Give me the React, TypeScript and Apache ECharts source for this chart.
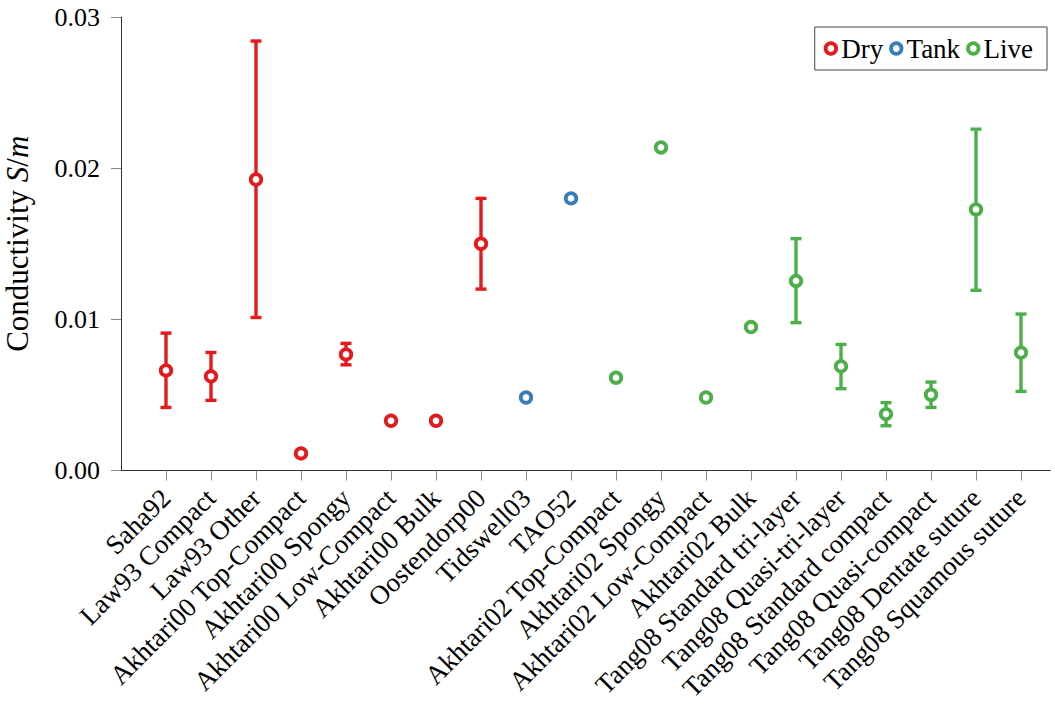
import React, { useEffect, useRef } from "react";
import * as echarts from "echarts";

const categories = [
  "Saha92",
  "Law93 Compact",
  "Law93 Other",
  "Akhtari00 Top-Compact",
  "Akhtari00 Spongy",
  "Akhtari00 Low-Compact",
  "Akhtari00 Bulk",
  "Oostendorp00",
  "Tidswell03",
  "TAO52",
  "Akhtari02 Top-Compact",
  "Akhtari02 Spongy",
  "Akhtari02 Low-Compact",
  "Akhtari02 Bulk",
  "Tang08 Standard tri-layer",
  "Tang08 Quasi-tri-layer",
  "Tang08 Standard compact",
  "Tang08 Quasi-compact",
  "Tang08 Dentate suture",
  "Tang08 Squamous suture",
];

const groups = [
  "Dry", "Dry", "Dry", "Dry", "Dry", "Dry", "Dry", "Dry",
  "Tank", "Tank",
  "Live", "Live", "Live", "Live", "Live", "Live", "Live", "Live", "Live", "Live",
];

const conductivity = [
  0.00662, 0.00623, 0.01925, 0.00113, 0.00768, 0.00329, 0.00329, 0.015,
  0.00483, 0.018,
  0.00614, 0.02137, 0.00483, 0.00949, 0.01254, 0.00689, 0.00373, 0.00501, 0.01727, 0.0078,
];

const errLow: (number | null)[] = [
  0.00417, 0.00464, 0.01012, null, 0.00699, null, null, 0.012,
  null, null,
  null, null, null, null, 0.00978, 0.00541, 0.00296, 0.00417, 0.01192, 0.00523,
];

const errHigh: (number | null)[] = [
  0.00909, 0.00781, 0.02841, null, 0.00841, null, null, 0.018,
  null, null,
  null, null, null, null, 0.01534, 0.00834, 0.00449, 0.00585, 0.02258, 0.01035,
];

const seriesNames = ["Dry", "Tank", "Live"];
const seriesColors = ["#e41a1c", "#377eb8", "#4daf4a"];

const yTicks = [0, 0.01, 0.02, 0.03];

const FONT = "'Liberation Serif', 'DejaVu Serif', serif";

export default function App() {
  const ref = useRef<HTMLDivElement>(null);

  useEffect(() => {
    if (!ref.current) return;
    const chart = echarts.init(ref.current, undefined, { renderer: "svg" });

    const scatterSeries = seriesNames.map((name, gi) => ({
      name,
      type: "scatter",
      symbol: "circle",
      symbolSize: 10.5,
      z: 3,
      itemStyle: {
        color: "#ffffff",
        borderColor: seriesColors[gi],
        borderWidth: 3.8,
        opacity: 1,
      },
      emphasis: { disabled: true },
      data: categories
        .map((_, i) => i)
        .filter((i) => groups[i] === name)
        .map((i) => [i, conductivity[i]]),
    }));

    const errorSeries = seriesNames.map((name, gi) => ({
      name: name + " error",
      type: "custom",
      z: 2,
      silent: true,
      encode: { x: 0, y: [1, 2] },
      data: categories
        .map((_, i) => i)
        .filter((i) => groups[i] === name && errLow[i] !== null && errHigh[i] !== null)
        .map((i) => [i, errLow[i], errHigh[i]]),
      renderItem: (params: any, api: any) => {
        const x = api.value(0);
        const lo = api.coord([x, api.value(1)]);
        const hi = api.coord([x, api.value(2)]);
        const cap = 5.5;
        const style = { stroke: seriesColors[gi], lineWidth: 3.4 };
        return {
          type: "group",
          children: [
            { type: "line", shape: { x1: hi[0], y1: hi[1], x2: lo[0], y2: lo[1] }, style },
            { type: "line", shape: { x1: hi[0] - cap, y1: hi[1], x2: hi[0] + cap, y2: hi[1] }, style },
            { type: "line", shape: { x1: lo[0] - cap, y1: lo[1], x2: lo[0] + cap, y2: lo[1] }, style },
          ],
        };
      },
    }));

    const idx = categories.map((_, i) => i);

    chart.setOption({
      animation: false,
      textStyle: { fontFamily: FONT },
      grid: {
        left: 121,
        top: 17,
        right: 4.75,
        bottom: 251.5,
        containLabel: false,
        outerBoundsMode: "none",
      },
      legend: {
        right: 8,
        top: 27,
        orient: "horizontal",
        padding: [8, 14, 8, 9],
        itemGap: 6,
        itemWidth: 10.5,
        itemHeight: 10.5,
        borderColor: "#444",
        borderWidth: 1,
        textStyle: { fontFamily: FONT, fontSize: 27, color: "#000" },
        data: seriesNames.map((n, gi) => ({
          name: n,
          icon: "circle",
          itemStyle: { color: "#fff", borderColor: seriesColors[gi], borderWidth: 3.8 },
        })),
        selectedMode: false,
      },
      xAxis: {
        type: "value",
        min: -1,
        max: 19.65,
        interval: 1,
        splitLine: { show: false },
        axisLine: { show: true, onZero: false, lineStyle: { color: "#333", width: 1 } },
        axisTick: {
          show: true,
          length: 10,
          inside: false,
          customValues: idx,
          lineStyle: { color: "#888", width: 1 },
        },
        axisLabel: {
          customValues: idx,
          showMinLabel: true,
          showMaxLabel: true,
          hideOverlap: false,
          rotate: 45,
          margin: 23,
          padding: [10, 0, 0, 0],
          fontFamily: FONT,
          fontSize: 27,
          color: "#000",
          verticalAlign: "middle",
          formatter: (v: number) => categories[Math.round(v)] ?? "",
        },
      },
      yAxis: {
        type: "value",
        min: 0,
        max: 0.03,
        interval: 0.01,
        name: "{a|Conductivity }{i|S}{a|/}{i|m}",
        nameLocation: "middle",
        nameRotate: 90,
        nameGap: 88,
        nameTextStyle: {
          fontFamily: FONT,
          fontSize: 31,
          color: "#000",
          rich: {
            a: { fontFamily: FONT, fontSize: 31, color: "#000" },
            i: { fontFamily: FONT, fontSize: 31, color: "#000", fontStyle: "italic" },
          },
        },
        splitLine: { show: false },
        axisLine: { show: true, onZero: false, lineStyle: { color: "#333", width: 1 } },
        axisTick: { show: true, length: 10, lineStyle: { color: "#888", width: 1 } },
        axisLabel: {
          margin: 21,
          fontFamily: FONT,
          fontSize: 26,
          color: "#000",
          customValues: yTicks,
          formatter: (v: number) => v.toFixed(2),
        },
      },
      series: [...errorSeries, ...scatterSeries],
    });

    return () => chart.dispose();
  }, []);

  return (
    <div
      ref={ref}
      style={{ position: "fixed", left: 0, top: 0, width: 1055, height: 722, background: "#fff" }}
    />
  );
}
